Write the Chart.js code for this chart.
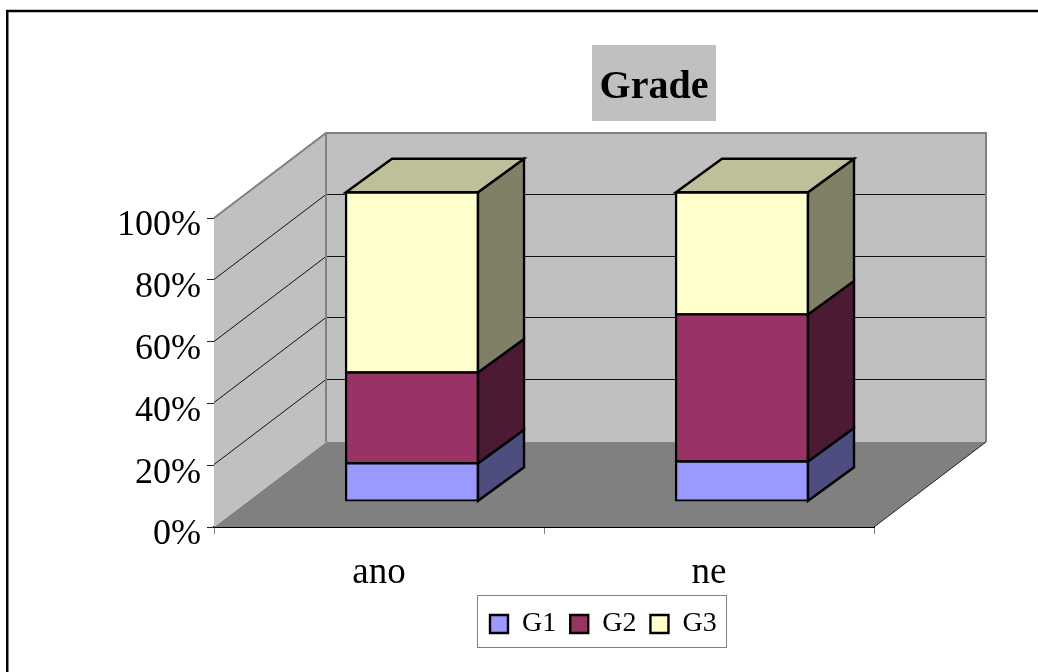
<!DOCTYPE html>
<html><head><meta charset="utf-8">
<style>html,body{margin:0;padding:0;background:#fff;overflow:hidden}canvas{display:block}</style>
<script src="https://cdn.jsdelivr.net/npm/chart.js@4/dist/chart.umd.min.js"></script>
</head><body><canvas id="c" width="1038" height="672"></canvas>
<script>
const categories = ["ano", "ne"];
const g1 = [12.3, 12.9];
const g2 = [29.4, 47.6];
const g3 = [58.3, 39.5];
const tickStep = 20;

const FONT = '"Liberation Serif", "Times New Roman", serif';
const WALL_DX = 112, WALL_DY = 85;     // depth of the 3D box
const BAR_DX = 33, BAR_DY = 25.7;      // front face of bars inside the box
const BAR_DEPTH_X = 46, BAR_DEPTH_Y = 33.5;
const EDGE = 2.4;

function poly(ctx, pts, fill, stroke, lw) {
  ctx.beginPath();
  pts.forEach((p, i) => i ? ctx.lineTo(p[0], p[1]) : ctx.moveTo(p[0], p[1]));
  ctx.closePath();
  if (fill) { ctx.fillStyle = fill; ctx.fill(); }
  if (stroke) { ctx.strokeStyle = stroke; ctx.lineWidth = lw; ctx.lineJoin = 'miter'; ctx.stroke(); }
}
function line(ctx, pts, color, lw) {
  ctx.beginPath();
  pts.forEach((p, i) => i ? ctx.lineTo(p[0], p[1]) : ctx.moveTo(p[0], p[1]));
  ctx.strokeStyle = color; ctx.lineWidth = lw; ctx.stroke();
}

const scene = {
  id: 'scene',
  beforeLayout(chart) {
    const l = chart.legend;
    if (l && !l._wrapped) {
      const f = l.fit;
      l.fit = function () { f.call(this); this.height = 52; };
      l._wrapped = true;
    }
  },
  afterLayout(chart) {
    const t = chart.titleBlock; t.left = 592; t.right = 716;
    const l = chart.legend; l.left = 476; l.right = 820; l.top = 596; l.bottom = 647;
  },
  beforeDraw(chart) {
    const ctx = chart.ctx;
    ctx.save();
    ctx.fillStyle = '#fff'; ctx.fillRect(0, 0, chart.width, chart.height);
    // outer frame: left and top edges only reach the page
    line(ctx, [[7.25, 672], [7.25, 11], [1038, 11]], '#000', 2.5);
    // title background
    ctx.fillStyle = '#C0C0C0'; ctx.fillRect(592, 45, 124, 76);
    // legend frame
    ctx.fillStyle = '#fff'; ctx.fillRect(478, 595, 249, 52);
    ctx.strokeStyle = '#808080'; ctx.lineWidth = 1; ctx.strokeRect(477.5, 595.5, 249, 52);
    ctx.restore();
  },
  beforeDatasetsDraw(chart) {
    const ctx = chart.ctx, { left: x0, right: x1, top: yT, bottom: yB } = chart.chartArea;
    const dx = WALL_DX, dy = WALL_DY, y = chart.scales.y;
    ctx.save();
    poly(ctx, [[x0, yB], [x0 + dx, yB - dy], [x1 + dx, yB - dy], [x1, yB]], '#808080');
    poly(ctx, [[x0 + dx, yT - dy], [x1 + dx, yT - dy], [x1 + dx, yB - dy], [x0 + dx, yB - dy]], '#C0C0C0');
    poly(ctx, [[x0, yT], [x0 + dx, yT - dy], [x0 + dx, yB - dy], [x0, yB]], '#C0C0C0');
    y.ticks.forEach(t => {
      if (t.value === 0 || t.value === 100) return;
      const p = Math.round(y.getPixelForValue(t.value)) - 0.5;
      line(ctx, [[x0, p], [x0 + dx, p - dy], [x1 + dx, p - dy]], '#111', 1);
    });
    line(ctx, [[x0, yT], [x0 + dx, yT - dy], [x1 + dx, yT - dy], [x1 + dx, yB - dy]], '#808080', 2);
    line(ctx, [[x0 + dx, yT - dy], [x0 + dx, yB - dy]], '#808080', 2);
    line(ctx, [[x1 + dx, yB - dy], [x1, yB]], '#222', 1);
    ctx.restore();
    ctx.save();
    ctx.translate(BAR_DX, -BAR_DY);
  },
  afterDatasetsDraw(chart) {
    const ctx = chart.ctx;
    const shade = [['#4D4D80', null], ['#4D1A33', null], ['#808066', '#BFBF99']];
    chart.data.datasets.forEach((ds, i) => {
      chart.getDatasetMeta(i).data.forEach(el => {
        const r = el.x + el.width / 2, l = el.x - el.width / 2, t = el.y, b = el.base;
        const dx = BAR_DEPTH_X, dy = BAR_DEPTH_Y;
        poly(ctx, [[r, t], [r + dx, t - dy], [r + dx, b - dy], [r, b]], shade[i][0], '#000', EDGE);
        if (shade[i][1]) poly(ctx, [[l, t], [l + dx, t - dy], [r + dx, t - dy], [r, t]], shade[i][1], '#000', EDGE);
      });
    });
    ctx.restore();
  }
};

new Chart(document.getElementById('c'), {
  type: 'bar',
  data: {
    labels: categories,
    datasets: [
      { label: 'G1', data: g1, backgroundColor: '#9999FF' },
      { label: 'G2', data: g2, backgroundColor: '#993366' },
      { label: 'G3', data: g3, backgroundColor: '#FFFFCC' }
    ].map(d => Object.assign(d, { borderColor: '#000', borderWidth: EDGE, borderSkipped: false, inflateAmount: EDGE / 2, barThickness: 132 }))
  },
  plugins: [scene],
  options: {
    responsive: false,
    animation: false,
    events: [],
    layout: { autoPadding: false, padding: { left: 0, right: 164, top: 0, bottom: 25 } },
    scales: {
      x: {
        stacked: true,
        afterFit: s => { s.height = 68; },
        grid: { drawOnChartArea: false, drawTicks: true, tickLength: 7, tickColor: '#808080', tickWidth: 1 },
        border: { color: '#000', width: 2 },
        ticks: { color: '#000', font: { family: FONT, size: 37 }, padding: 17, maxRotation: 0 }
      },
      y: {
        stacked: true, min: 0, max: 100,
        afterFit: s => { s.width = 214; },
        grid: { drawOnChartArea: false, drawTicks: true, tickLength: 7, tickColor: '#222', tickWidth: 1 },
        border: { color: '#222', width: 1 },
        ticks: { stepSize: tickStep, color: '#000', font: { family: FONT, size: 36 }, padding: 6, labelOffset: 8, callback: v => v + '%' }
      }
    },
    plugins: {
      tooltip: { enabled: false },
      title: {
        display: true, text: 'Grade', color: '#000',
        font: { family: FONT, size: 40, weight: 'bold', lineHeight: 1.2 },
        padding: { top: 64, bottom: 106 }
      },
      legend: {
        position: 'bottom', align: 'start',
        labels: { color: '#000', font: { family: FONT, size: 28 }, boxWidth: 18, boxHeight: 18, padding: 14 }
      }
    }
  }
});
</script></body></html>
